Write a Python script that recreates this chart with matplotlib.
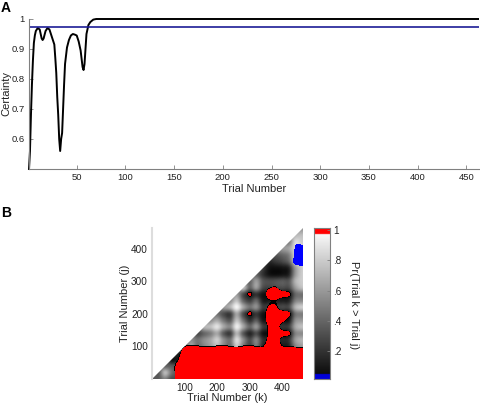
import numpy as np
import matplotlib
matplotlib.use('Agg')
import matplotlib.pyplot as plt
from matplotlib.colors import ListedColormap, LinearSegmentedColormap
from matplotlib.patches import Polygon

plt.rcParams['font.family'] = ['Liberation Sans', 'DejaVu Sans']

# panel A: certainty per trial
trials = [1, 2, 3, 4, 5, 6, 7, 8, 10, 12, 14, 15, 16, 18, 20, 22, 24, 26, 27, 28, 29, 30, 31, 32, 33, 34, 35,
          36, 37, 38, 40, 42, 44, 46, 48, 50, 52, 54, 56, 57, 58, 59, 60, 62, 64, 67, 70, 462]
certainty = [.5, .56, .68, .78, .86, .92, .945, .96, .97, .965, .935, .93, .935, .96, .97, .965, .945, .925, .915,
             .87, .82, .74, .68, .60, .56, .60, .62, .70, .78, .85, .905, .93, .945, .95, .948, .945, .925, .895,
             .84, .83, .85, .90, .95, .98, .99, .998, 1.0, 1.0]
threshold = 0.975

# panel B: grey level in percent, rows j = 460 down to 0, columns k = 0 to 460 (step 20)
grey = [
    [50, 50, 50, 50, 50, 50, 50, 50, 50, 50, 50, 50, 50, 50, 50, 50, 50, 50, 50, 50, 50, 50, 60, 60],
    [50, 50, 50, 50, 50, 50, 50, 50, 50, 50, 50, 50, 50, 50, 50, 50, 50, 50, 50, 50, 50, 60, 72, 75],
    [50, 50, 50, 50, 50, 50, 50, 50, 50, 50, 50, 50, 50, 50, 50, 50, 50, 50, 50, 50, 55, 50, 85, 80],
    [50, 50, 50, 50, 50, 50, 50, 50, 50, 50, 50, 50, 50, 50, 50, 50, 50, 50, 50, 55, 60, 65, 85, 85],
    [50, 50, 50, 50, 50, 50, 50, 50, 50, 50, 50, 50, 50, 50, 50, 50, 50, 50, 40, 35, 40, 50, 85, 85],
    [50, 50, 50, 50, 50, 50, 50, 50, 50, 50, 50, 50, 50, 50, 50, 50, 50, 35, 18, 22, 28, 40, 80, 85],
    [50, 50, 50, 50, 50, 50, 50, 50, 50, 50, 50, 50, 50, 50, 50, 50, 50, 25, 8, 6, 8, 15, 60, 80],
    [50, 50, 50, 50, 50, 50, 50, 50, 50, 50, 50, 50, 50, 50, 50, 50, 40, 20, 8, 6, 8, 15, 60, 80],
    [50, 50, 50, 50, 50, 50, 50, 50, 50, 50, 50, 50, 50, 50, 50, 40, 60, 35, 30, 32, 35, 35, 70, 80],
    [50, 50, 50, 50, 50, 50, 50, 50, 50, 50, 50, 50, 50, 50, 75, 40, 60, 30, 25, 28, 30, 30, 60, 75],
    [50, 50, 50, 50, 50, 50, 50, 50, 50, 50, 50, 50, 50, 60, 30, 12, 20, 8, 5, 5, 5, 6, 40, 45],
    [50, 50, 50, 50, 50, 50, 50, 50, 50, 50, 50, 50, 55, 75, 40, 25, 40, 12, 10, 12, 12, 15, 50, 55],
    [50, 50, 50, 50, 50, 50, 50, 50, 50, 50, 50, 60, 70, 95, 65, 45, 55, 25, 25, 25, 28, 30, 70, 80],
    [50, 50, 50, 50, 50, 50, 50, 50, 50, 50, 45, 30, 25, 65, 30, 12, 22, 8, 5, 5, 5, 5, 45, 50],
    [50, 50, 50, 50, 50, 50, 50, 50, 50, 55, 65, 45, 35, 75, 45, 20, 35, 10, 8, 8, 8, 10, 55, 60],
    [50, 50, 50, 50, 50, 50, 50, 50, 70, 75, 88, 65, 55, 92, 65, 40, 58, 25, 20, 20, 20, 25, 65, 75],
    [50, 50, 50, 50, 50, 50, 50, 30, 40, 50, 65, 35, 25, 70, 35, 15, 30, 8, 5, 5, 5, 8, 50, 55],
    [50, 50, 50, 50, 50, 50, 55, 45, 55, 65, 80, 55, 45, 85, 55, 30, 50, 20, 15, 15, 15, 20, 60, 70],
    [50, 50, 50, 50, 50, 40, 60, 40, 50, 60, 70, 50, 40, 75, 45, 25, 45, 15, 10, 10, 10, 15, 50, 60],
    [50, 50, 50, 50, 15, 20, 30, 20, 30, 40, 50, 30, 20, 50, 30, 15, 30, 15, 10, 10, 10, 15, 40, 50],
    [50, 50, 50, 10, 10, 20, 30, 20, 30, 40, 50, 30, 20, 50, 30, 15, 30, 15, 10, 10, 10, 15, 40, 50],
    [50, 50, 40, 35, 30, 30, 30, 20, 30, 40, 50, 30, 20, 50, 30, 15, 30, 15, 10, 10, 10, 15, 40, 50],
    [50, 35, 72, 45, 30, 30, 30, 20, 30, 40, 50, 30, 20, 50, 30, 15, 30, 15, 10, 10, 10, 15, 40, 50],
    [35, 35, 50, 30, 30, 30, 30, 20, 30, 40, 50, 30, 20, 50, 30, 15, 30, 15, 10, 10, 10, 15, 40, 50],
]
# same grid: above 50 is the red area, below -50 the blue one
tails = [
    [0, 0, 0, 0, 0, 0, 0, 0, 0, 0, 0, 0, 0, 0, 0, 0, 0, 0, 0, 0, 0, 0, 0, 0],
    [0, 0, 0, 0, 0, 0, 0, 0, 0, 0, 0, 0, 0, 0, 0, 0, 0, 0, 0, 0, 0, 0, 0, 0],
    [0, 0, 0, 0, 0, 0, 0, 0, 0, 0, 0, 0, 0, 0, 0, 0, 0, 0, 0, 0, 0, 0, -40, -40],
    [0, 0, 0, 0, 0, 0, 0, 0, 0, 0, 0, 0, 0, 0, 0, 0, 0, 0, 0, 0, 0, 0, -56, -62],
    [0, 0, 0, 0, 0, 0, 0, 0, 0, 0, 0, 0, 0, 0, 0, 0, 0, 0, 0, 0, 0, 0, -60, -85],
    [0, 0, 0, 0, 0, 0, 0, 0, 0, 0, 0, 0, 0, 0, 0, 0, 0, 0, 0, 0, 0, 0, -75, -100],
    [0, 0, 0, 0, 0, 0, 0, 0, 0, 0, 0, 0, 0, 0, 0, 0, 0, 0, 0, 0, 0, 0, -20, -20],
    [0, 0, 0, 0, 0, 0, 0, 0, 0, 0, 0, 0, 0, 0, 0, 0, 0, 0, 0, 0, 0, 0, 0, 0],
    [0, 0, 0, 0, 0, 0, 0, 0, 0, 0, 0, 0, 0, 0, 0, 0, 0, 0, 0, 0, 0, 0, 0, 0],
    [0, 0, 0, 0, 0, 0, 0, 0, 0, 0, 0, 0, 0, 0, 0, 0, 0, 0, 40, 52, 0, 0, 0, 0],
    [0, 0, 0, 0, 0, 0, 0, 0, 0, 0, 0, 0, 0, 0, 0, 58, 0, 0, 100, 100, 85, 60, 0, 0],
    [0, 0, 0, 0, 0, 0, 0, 0, 0, 0, 0, 0, 0, 0, 0, 0, 0, 0, 40, 45, 5, 0, 0, 0],
    [0, 0, 0, 0, 0, 0, 0, 0, 0, 0, 0, 0, 0, 0, 0, 0, 0, 0, 60, 60, 0, 0, 0, 0],
    [0, 0, 0, 0, 0, 0, 0, 0, 0, 0, 0, 0, 0, 0, 0, 58, 0, 10, 100, 100, 90, 60, 0, 0],
    [0, 0, 0, 0, 0, 0, 0, 0, 0, 0, 0, 0, 0, 0, 0, 0, 0, 5, 90, 100, 70, 20, 0, 0],
    [0, 0, 0, 0, 0, 0, 0, 0, 0, 0, 0, 0, 0, 0, 0, 0, 0, 0, 65, 95, 10, 0, 0, 0],
    [0, 0, 0, 0, 0, 0, 0, 0, 0, 0, 0, 0, 0, 0, 0, 0, 0, 0, 65, 100, 80, 60, 0, 0],
    [0, 0, 0, 0, 0, 0, 0, 0, 0, 0, 0, 0, 0, 0, 0, 0, 0, 5, 75, 100, 15, 5, 0, 0],
    [0, 0, 0, 0, 0, 45, 50, 50, 45, 45, 50, 55, 45, 40, 50, 55, 45, 45, 100, 100, 50, 45, 40, 35],
    [0, 0, 0, 0, 25, 85, 100, 100, 100, 100, 100, 100, 100, 100, 100, 100, 100, 100, 100, 100, 100, 100, 100, 100],
    [0, 0, 0, 5, 45, 100, 100, 100, 100, 100, 100, 100, 100, 100, 100, 100, 100, 100, 100, 100, 100, 100, 100, 100],
    [0, 0, 0, 20, 70, 100, 100, 100, 100, 100, 100, 100, 100, 100, 100, 100, 100, 100, 100, 100, 100, 100, 100, 100],
    [0, 0, 0, 20, 70, 100, 100, 100, 100, 100, 100, 100, 100, 100, 100, 100, 100, 100, 100, 100, 100, 100, 100, 100],
    [0, 0, 0, 20, 70, 100, 100, 100, 100, 100, 100, 100, 100, 100, 100, 100, 100, 100, 100, 100, 100, 100, 100, 100],
]
trial_ticks = [100, 200, 300, 400]
bar_ticks = [0.2, 0.4, 0.6, 0.8, 1.0]
bar_labels = ['.2', '.4', '.6', '.8', '1']

WIDTH, HEIGHT = 480, 404
AXIS_GREY = '#808080'
TEXT_COLOR = '#222222'
LABEL_SIZE = 8
TICK_SIZE = 7.2


def px_axes(fig, left, top, right, bottom):
    return fig.add_axes([left / WIDTH, 1 - bottom / HEIGHT, (right - left) / WIDTH, (bottom - top) / HEIGHT])


def style_axes(ax):
    for side in ['top', 'right']:
        ax.spines[side].set_visible(False)
    for side in ['left', 'bottom']:
        ax.spines[side].set_color(AXIS_GREY)
        ax.spines[side].set_linewidth(0.8)
    ax.tick_params(direction='in', length=3, width=0.6, color=AXIS_GREY, labelsize=TICK_SIZE, labelcolor=TEXT_COLOR, pad=3)


fig = plt.figure(figsize=(WIDTH / 100, HEIGHT / 100), dpi=100)

# panel A
ax_a = px_axes(fig, 29, 19, 479, 169)
ax_a.plot(trials, certainty, color='black', lw=1.4, solid_joinstyle='round', clip_on=False)
ax_a.axhline(threshold, color='#1c1c96', lw=1.2)
ax_a.set_xlim(1, 463)
ax_a.set_ylim(0.5, 1.0)
ax_a.set_xticks(range(50, 451, 50))
ax_a.set_yticks([0.6, 0.7, 0.8, 0.9, 1.0])
ax_a.set_yticklabels(['0.6', '0.7', '0.8', '0.9', '1'])
ax_a.set_xlabel('Trial Number', fontsize=LABEL_SIZE, color=TEXT_COLOR, labelpad=1)
ax_a.set_ylabel('Certainty', fontsize=LABEL_SIZE, color=TEXT_COLOR)
ax_a.yaxis.set_label_coords((11 - 29) / 450, 0.5)
style_axes(ax_a)
ax_a.tick_params(labelsize=6.8)

# panel B
ax_b = px_axes(fig, 152, 228, 303, 379)
image_extent = (-10, 470, -10, 470)
grey_img = ax_b.imshow(np.array(grey), cmap='gray', vmin=0, vmax=100, extent=image_extent,
                       interpolation='catrom', aspect='auto')
# blue below -50, clear in between, a thin black rim and then red above 50
n_levels = 400
tail_colors = np.zeros((n_levels, 4))
levels = np.linspace(-100, 100, n_levels)
tail_colors[levels < -50] = (0, 0, 1, 1)
tail_colors[(levels >= 42) & (levels < 50)] = (0, 0, 0, 1)
tail_colors[levels >= 50] = (1, 0, 0, 1)
tail_img = ax_b.imshow(np.array(tails), cmap=ListedColormap(tail_colors), vmin=-100, vmax=100, extent=image_extent,
                       interpolation='catrom', aspect='auto')
triangle = Polygon([(0, 0), (463, 0), (463, 463)], closed=True, transform=ax_b.transData)
grey_img.set_clip_path(triangle)
tail_img.set_clip_path(triangle)
ax_b.set_xlim(0, 463)
ax_b.set_ylim(0, 463)
ax_b.set_xticks(trial_ticks)
ax_b.set_yticks(trial_ticks)
ax_b.set_xlabel('Trial Number (k)', fontsize=LABEL_SIZE, color=TEXT_COLOR, labelpad=0)
ax_b.set_ylabel('Trial Number (j)', fontsize=LABEL_SIZE, color=TEXT_COLOR)
ax_b.yaxis.set_label_coords((130 - 152) / 151, 0.5)
style_axes(ax_b)
ax_b.spines['left'].set_color('#dddddd')
ax_b.spines['left'].set_linewidth(1.5)
ax_b.spines['bottom'].set_visible(False)
ax_b.tick_params(length=0)

# colour bar
ax_c = px_axes(fig, 314, 228, 330, 379)
bar_low, bar_high = 0.017, 1.013
bar_cmap = LinearSegmentedColormap.from_list('bar', ['black', 'white'])
bar_levels = np.linspace(bar_low, bar_high, 300)[:, None]
bar_rgb = bar_cmap(bar_levels[:, 0])
bar_rgb[bar_levels[:, 0] > 0.974] = (1, 0, 0, 1)
bar_rgb[bar_levels[:, 0] < 0.05] = (0, 0, 0.85, 1)
ax_c.imshow(bar_rgb[:, None, :], origin='lower', extent=(0, 1, bar_low, bar_high), aspect='auto',
            interpolation='bilinear')
ax_c.set_xticks([])
ax_c.yaxis.tick_right()
ax_c.set_yticks(bar_ticks)
ax_c.set_yticklabels(bar_labels)
ax_c.tick_params(direction='in', length=2, width=0.6, color=AXIS_GREY, labelsize=TICK_SIZE, labelcolor=TEXT_COLOR, pad=2)
for spine in ax_c.spines.values():
    spine.set_color(AXIS_GREY)
    spine.set_linewidth(0.8)
fig.text(354 / WIDTH, 1 - 305 / HEIGHT, 'Pr(Trial k > Trial j)', rotation=270, fontsize=LABEL_SIZE, color=TEXT_COLOR,
         ha='center', va='center')

fig.text(1 / WIDTH, 1 - 8 / HEIGHT, 'A', fontsize=10, fontweight='bold', va='center', color='black')
fig.text(1 / WIDTH, 1 - 213 / HEIGHT, 'B', fontsize=10, fontweight='bold', va='center', color='black')

fig.savefig('out.png', dpi=100)
